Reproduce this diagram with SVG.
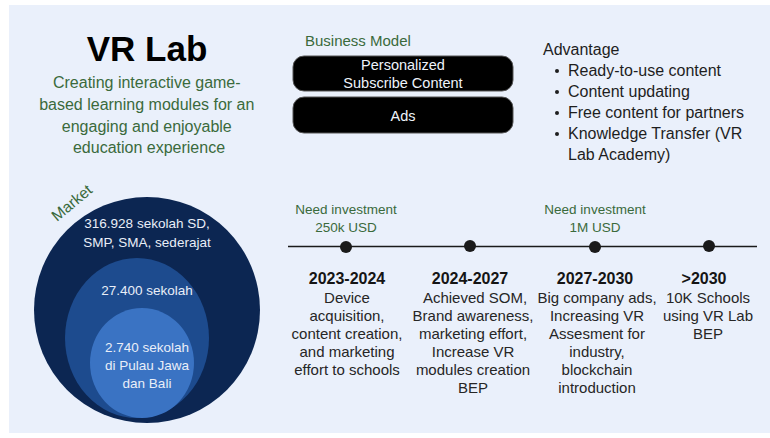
<svg xmlns="http://www.w3.org/2000/svg" width="770" height="438" viewBox="0 0 770 438">
<style>
text{font-family:"Liberation Sans",Arial,sans-serif}
.green{fill:#3a6a3c}
.dark{fill:#1e1e1e}
.white{fill:#eef3fb}
.box{fill:#000;stroke:#555;stroke-width:1}
.dot{fill:#1a1a1a}
.year{font-weight:700;font-size:16px;fill:#151515;text-anchor:middle}
.desc{font-size:15px;fill:#262626;text-anchor:middle}
.inv{font-size:13.5px;text-anchor:middle}
.adv{font-size:16px;fill:#1e1e1e}
.circ{font-size:13.5px;fill:#e9eef8;text-anchor:middle}
</style>
<rect x="0" y="0" width="770" height="438" fill="#ffffff"/>
<rect x="9" y="5" width="761" height="428" fill="#eaf0fb"/>

<g id="title">
<text x="147" y="61" text-anchor="middle" font-size="35" font-weight="700" fill="#000">VR Lab</text>
<text class="green" font-size="16" text-anchor="middle">
<tspan x="149" y="88">Creating interactive game-</tspan>
<tspan x="149" y="110">based learning modules for an</tspan>
<tspan x="149" y="132">engaging and enjoyable</tspan>
<tspan x="149" y="153">education experience</tspan>
</text>
</g>

<g id="business-model">
<text class="green" x="305" y="46" font-size="15">Business Model</text>
<g id="bm-subscribe">
<rect class="box" x="293" y="56" width="220" height="35" rx="11"/>
<text class="white" text-anchor="middle" font-size="14.5"><tspan x="403" y="70">Personalized</tspan><tspan x="403" y="88">Subscribe Content</tspan></text>
</g>
<g id="bm-ads">
<rect class="box" x="293" y="97" width="220" height="36" rx="11"/>
<text class="white" x="403" y="121" text-anchor="middle" font-size="14.5">Ads</text>
</g>
</g>

<g id="advantage">
<text class="adv" x="543" y="55">Advantage</text>
<g class="adv">
<circle cx="557" cy="71" r="2" fill="#1e1e1e"/>
<text x="568" y="76">Ready-to-use content</text>
<circle cx="557" cy="92" r="2" fill="#1e1e1e"/>
<text x="568" y="97">Content updating</text>
<circle cx="557" cy="113" r="2" fill="#1e1e1e"/>
<text x="568" y="118">Free content for partners</text>
<circle cx="557" cy="134" r="2" fill="#1e1e1e"/>
<text x="568" y="139">Knowledge Transfer (VR</text>
<text x="568" y="160">Lab Academy)</text>
</g>
</g>

<g id="market">
<circle id="market-outer" cx="147" cy="310" r="113" fill="#0c2652"/>
<ellipse id="market-middle" cx="137" cy="338" rx="72" ry="80" fill="#1d4b8e"/>
<ellipse id="market-inner" cx="142" cy="363" rx="52" ry="55" fill="#3a73c3"/>
<text class="green" x="72" y="208" text-anchor="middle" font-size="15.5" transform="rotate(-40 72 203)">Market</text>
<text class="circ"><tspan x="147" y="228">316.928 sekolah SD,</tspan><tspan x="147" y="247">SMP, SMA, sederajat</tspan></text>
<text class="circ" x="147" y="295">27.400 sekolah</text>
<text class="circ"><tspan x="147" y="352">2.740 sekolah</tspan><tspan x="147" y="370">di Pulau Jawa</tspan><tspan x="147" y="388">dan Bali</tspan></text>
</g>

<g id="connectors">
<line x1="288" y1="246.5" x2="757" y2="246.5" stroke="#1a1a1a" stroke-width="1.6"/>
</g>

<g id="timeline">
<g id="t2023">
<circle class="dot" cx="346" cy="247" r="6"/>
<text class="inv green"><tspan x="346" y="214">Need investment</tspan><tspan x="346" y="232">250k USD</tspan></text>
<text class="year" x="347" y="284">2023-2024</text>
<text class="desc"><tspan x="347" y="303">Device</tspan><tspan x="347" y="321">acquisition,</tspan><tspan x="347" y="339">content creation,</tspan><tspan x="347" y="357">and marketing</tspan><tspan x="347" y="375">effort to schools</tspan></text>
</g>
<g id="t2024">
<circle class="dot" cx="470" cy="246" r="6"/>
<text class="year" x="470" y="284">2024-2027</text>
<text class="desc"><tspan x="475" y="303">Achieved SOM,</tspan><tspan x="473" y="321">Brand awareness,</tspan><tspan x="473" y="339">marketing effort,</tspan><tspan x="473" y="357">Increase VR</tspan><tspan x="473" y="375">modules creation</tspan><tspan x="473" y="393">BEP</tspan></text>
</g>
<g id="t2027">
<circle class="dot" cx="595" cy="247" r="6"/>
<text class="inv green"><tspan x="595" y="214">Need investment</tspan><tspan x="595" y="232">1M USD</tspan></text>
<text class="year" x="595" y="284">2027-2030</text>
<text class="desc"><tspan x="597" y="303">Big company ads,</tspan><tspan x="597" y="321">Increasing VR</tspan><tspan x="597" y="339">Assesment for</tspan><tspan x="597" y="357">industry,</tspan><tspan x="597" y="375">blockchain</tspan><tspan x="597" y="393">introduction</tspan></text>
</g>
<g id="t2030">
<circle class="dot" cx="709" cy="246" r="6"/>
<text class="year" x="704" y="284">&gt;2030</text>
<text class="desc"><tspan x="708" y="303">10K Schools</tspan><tspan x="708" y="321">using VR Lab</tspan><tspan x="708" y="339">BEP</tspan></text>
</g>
</g>
</svg>
